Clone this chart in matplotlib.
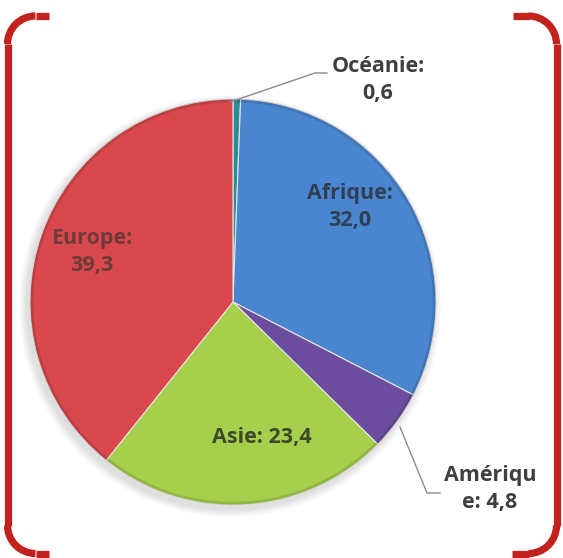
import matplotlib.pyplot as plt
from matplotlib.patches import Arc, Circle

# data (percent)
regions = ['Océanie', 'Afrique', 'Amérique', 'Asie', 'Europe']
shares = [0.6, 32.0, 4.8, 23.4, 39.3]
labels = ['Océanie:\n0,6', 'Afrique:\n32,0', 'Amériqu\ne: 4,8', 'Asie: 23,4', 'Europe:\n39,3']
colors = ['#2b8c99', '#4a86d0', '#6b4c9f', '#a6d04b', '#d9484c']

W, H = 563, 558
fig = plt.figure(figsize=(W / 100, H / 100), dpi=100)
ax = fig.add_axes([0, 0, 1, 1])

cx, cy, r = 233, 558 - 302, 203

# soft shadow under the pie
for k in range(8):
    ax.add_patch(Circle((cx - 3, cy - 4), r + 8 - k, color='#808080', alpha=0.03, lw=0, zorder=1))

wedges, _ = ax.pie(shares, colors=colors, startangle=90, counterclock=False,
                   center=(cx, cy), radius=r, frame=True,
                   wedgeprops=dict(edgecolor='#e6e6e6', linewidth=0.8))
for w in wedges:
    w.set_zorder(2)
# darker bevel on the rim
ax.add_patch(Circle((cx, cy), r - 1.5, fill=False, ec='#000000', alpha=0.12, lw=2.5, zorder=3))

ax.set_xlim(0, W)
ax.set_ylim(0, H)
ax.set_aspect('equal')
ax.axis('off')

font = dict(family=['Open Sans', 'DejaVu Sans'], fontweight='bold', fontsize=15.5,
            ha='center', va='center', linespacing=1.4, zorder=5)
txt = '#3f3f3f'
ax.text(378, H - 80, labels[0], color=txt, **font)
ax.text(350, H - 207, labels[1], color='#2f3f56', **font)
ax.text(490, H - 489, labels[2], color=txt, **font)
ax.text(262, H - 437, labels[3], color='#3c4a2a', **font)
ax.text(92, H - 252, labels[4], color='#6e3a3a', **font)

# leader lines
ax.plot([230, 315, 327], [H - 102, H - 73, H - 73], color='#8c8c8c', lw=1, zorder=4)
ax.plot([400, 427, 440], [H - 427, H - 493, H - 493], color='#8c8c8c', lw=1, zorder=4)

# red bracket frame
red = '#c2211d'
lw = 5.2
rad = 28
xl, xr, yt, yb = 7.5, 556.5, H - 16, 4.5
ax.plot([xl, xl], [yb + rad, yt - rad], color=red, lw=lw, solid_capstyle='butt')
ax.plot([xr, xr], [yb + rad, yt - rad], color=red, lw=lw, solid_capstyle='butt')
ax.plot([xl + rad, 49], [yt, yt], color=red, lw=lw, solid_capstyle='butt')
ax.plot([xl + rad, 49], [yb, yb], color=red, lw=lw, solid_capstyle='butt')
ax.plot([513, xr - rad], [yt, yt], color=red, lw=lw, solid_capstyle='butt')
ax.plot([512, xr - rad], [yb, yb], color=red, lw=lw, solid_capstyle='butt')
ax.add_patch(Arc((xl + rad, yt - rad), 2 * rad, 2 * rad, theta1=90, theta2=180, color=red, lw=lw))
ax.add_patch(Arc((xr - rad, yt - rad), 2 * rad, 2 * rad, theta1=0, theta2=90, color=red, lw=lw))
ax.add_patch(Arc((xl + rad, yb + rad), 2 * rad, 2 * rad, theta1=180, theta2=270, color=red, lw=lw))
ax.add_patch(Arc((xr - rad, yb + rad), 2 * rad, 2 * rad, theta1=270, theta2=360, color=red, lw=lw))

fig.savefig('out.png', dpi=100)
